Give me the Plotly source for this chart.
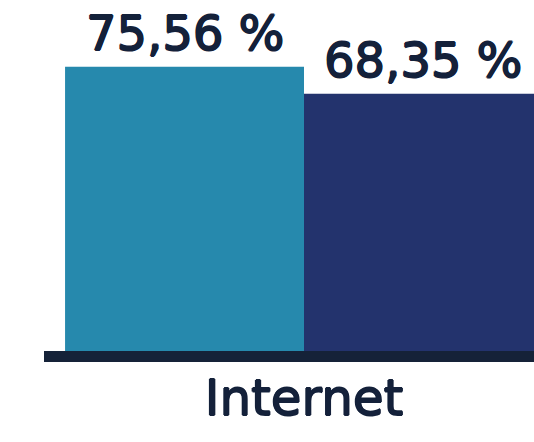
import plotly.graph_objects as go

# Internet share, two series in one category
categories = ["Internet"]
series_a = [75.56]
series_b = [68.35]
colors = ["#2689AD", "#23336D"]

TEXT = "#14213A"
FONT = "DejaVu Sans"
# slight outline to give the regular face a heavier stroke
THICK = f"0.8px 0 0 {TEXT}, -0.8px 0 0 {TEXT}, 0 0.6px 0 {TEXT}, 0 -0.6px 0 {TEXT}"

fig = go.Figure()
for vals, col in zip([series_a, series_b], colors):
    fig.add_trace(go.Bar(
        x=categories, y=vals, marker_color=col, marker_line_width=0,
        offsetgroup=col,
    ))

fig.update_layout(
    width=534, height=442,
    margin=dict(l=44, r=0, t=0, b=91),
    barmode="group", bargap=0.081, bargroupgap=0,
    showlegend=False,
    plot_bgcolor="white", paper_bgcolor="white",
    xaxis=dict(
        range=[-0.5, 0.4423], showgrid=False, zeroline=False,
        showline=True, linewidth=11, linecolor="#152238",
        ticks="", tickfont=dict(family=FONT, size=50, color=TEXT, shadow=THICK),
        ticklabelstandoff=-7,
    ),
    yaxis=dict(range=[0, 93.28], visible=False),
)

# value labels above each bar (group of two bars centred on the category)
group_w = 1 - 0.081
bar_w = group_w / 2
for i, vals in enumerate([series_a, series_b]):
    xc = -group_w / 2 + bar_w * (i + 0.5)
    fig.add_annotation(
        x=xc, y=vals[0], xref="x", yref="y",
        text=f"{vals[0]:.2f} %".replace(".", ","),
        showarrow=False, yanchor="bottom", yshift=4,
        font=dict(family=FONT, size=48, color=TEXT, shadow=THICK),
    )

fig.write_html("out.html")
